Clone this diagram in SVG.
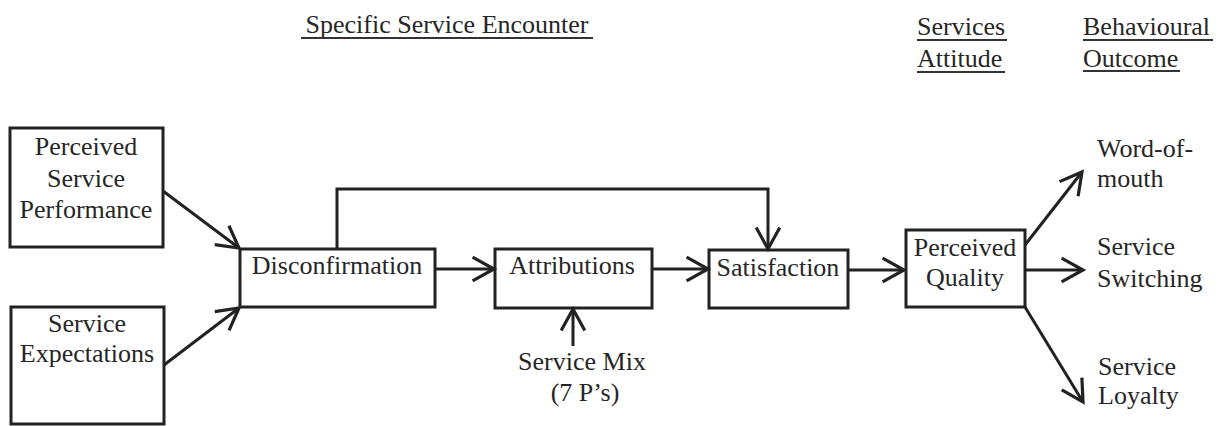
<svg xmlns="http://www.w3.org/2000/svg" width="1221" height="426" viewBox="0 0 1221 426">
  <style>
    text { font-family: "Liberation Serif", "Times New Roman", serif; font-size: 26px; fill: #262626; }
    .c { text-anchor: middle; }
    .box { fill: none; stroke: #222; stroke-width: 3; }
    .link { fill: none; stroke: #222; stroke-width: 3; }
    .ul { stroke: #333; stroke-width: 1.8; }
  </style>
  <defs>
    <marker id="arrow" markerUnits="userSpaceOnUse" markerWidth="30" markerHeight="30" viewBox="-24 -14 28 28" refX="0" refY="0" orient="auto">
      <path d="M -20 -11 L 0 0 L -20 11" fill="none" stroke="#222" stroke-width="3" stroke-linejoin="miter"/>
    </marker>
  </defs>
  <rect width="1221" height="426" fill="#fff"/>

  <!-- column headings -->
  <g id="headings">
    <text x="447" y="33" class="c">Specific Service Encounter</text>
    <line class="ul" x1="301" y1="38" x2="593" y2="38"/>
    <text x="917" y="35">Services</text>
    <line class="ul" x1="917" y1="40" x2="1007" y2="40"/>
    <text x="917" y="67">Attitude</text>
    <line class="ul" x1="917" y1="72" x2="1005" y2="72"/>
    <text x="1083" y="35">Behavioural</text>
    <line class="ul" x1="1083" y1="40" x2="1213" y2="40"/>
    <text x="1083" y="67">Outcome</text>
    <line class="ul" x1="1083" y1="71" x2="1180" y2="71"/>
  </g>

  <!-- connectors -->
  <g id="connectors">
    <line class="link" x1="163" y1="191" x2="239" y2="248" marker-end="url(#arrow)"/>
    <line class="link" x1="164" y1="365" x2="239" y2="308" marker-end="url(#arrow)"/>
    <line class="link" x1="435" y1="269" x2="494" y2="269" marker-end="url(#arrow)"/>
    <line class="link" x1="652" y1="269" x2="708" y2="269" marker-end="url(#arrow)"/>
    <line class="link" x1="848" y1="270" x2="904" y2="270" marker-end="url(#arrow)"/>
    <polyline class="link" points="337,249 337,189 768,189 768,249" marker-end="url(#arrow)"/>
    <line class="link" x1="573" y1="346" x2="573" y2="309" marker-end="url(#arrow)"/>
    <line class="link" x1="1025" y1="245" x2="1082" y2="172" marker-end="url(#arrow)"/>
    <line class="link" x1="1025" y1="270" x2="1083" y2="270" marker-end="url(#arrow)"/>
    <line class="link" x1="1025" y1="307" x2="1083" y2="402" marker-end="url(#arrow)"/>
  </g>

  <g id="perceived-performance">
    <rect class="box" x="10" y="128" width="153" height="119"/>
    <text x="86" y="155" class="c">Perceived</text>
    <text x="86" y="187" class="c">Service</text>
    <text x="86" y="218" class="c">Performance</text>
  </g>

  <g id="service-expectations">
    <rect class="box" x="11" y="307" width="153" height="117"/>
    <text x="87" y="332" class="c">Service</text>
    <text x="87" y="362" class="c">Expectations</text>
  </g>

  <g id="disconfirmation">
    <rect class="box" x="240" y="249" width="195" height="58"/>
    <text x="337" y="274" class="c">Disconfirmation</text>
  </g>

  <g id="attributions">
    <rect class="box" x="495" y="249" width="157" height="59"/>
    <text x="572" y="274" class="c">Attributions</text>
  </g>

  <g id="service-mix">
    <text x="582" y="370" class="c">Service Mix</text>
    <text x="585" y="401" class="c">(7 P’s)</text>
  </g>

  <g id="satisfaction">
    <rect class="box" x="709" y="250" width="139" height="58"/>
    <text x="778" y="276" class="c">Satisfaction</text>
  </g>

  <g id="perceived-quality">
    <rect class="box" x="906" y="230" width="119" height="77"/>
    <text x="965" y="256" class="c">Perceived</text>
    <text x="965" y="286" class="c">Quality</text>
  </g>

  <g id="word-of-mouth">
    <text x="1097" y="157">Word-of-</text>
    <text x="1097" y="187">mouth</text>
  </g>

  <g id="service-switching">
    <text x="1097" y="255">Service</text>
    <text x="1097" y="287">Switching</text>
  </g>

  <g id="service-loyalty">
    <text x="1098" y="375">Service</text>
    <text x="1098" y="404">Loyalty</text>
  </g>
</svg>
